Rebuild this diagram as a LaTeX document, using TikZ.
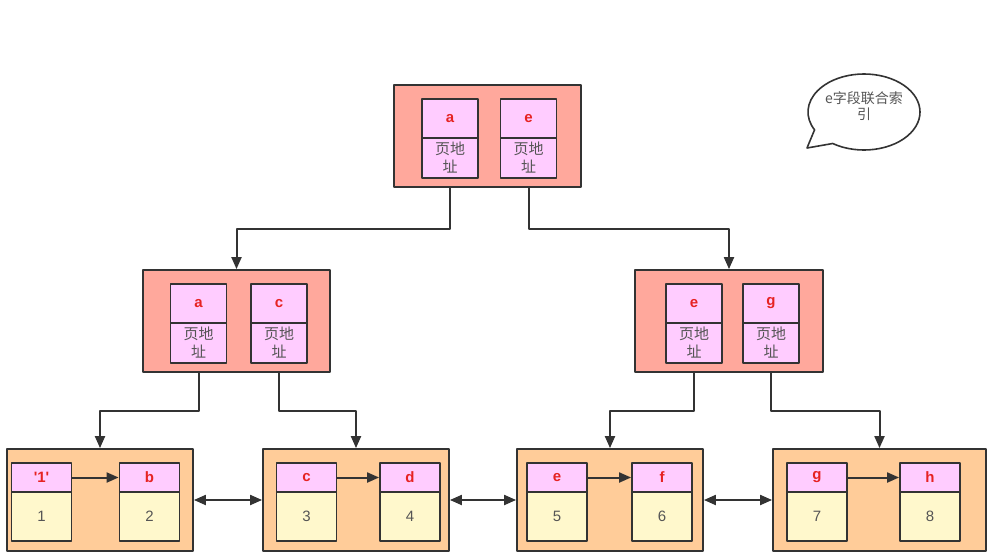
\documentclass[tikz,border=0pt]{standalone}
\usepackage{fontspec}
\setmainfont{Noto Sans CJK SC}
\newfontfamily\latinfont{Liberation Sans}
\usetikzlibrary{arrows.meta,positioning,calc}
\definecolor{edge}{HTML}{333333}
\definecolor{pagered}{HTML}{FFA89C}
\definecolor{keypink}{HTML}{FFCCFF}
\definecolor{leaforange}{HTML}{FFCC99}
\definecolor{datayellow}{HTML}{FFF8CC}
\definecolor{keytext}{HTML}{E62222}
\definecolor{graytext}{HTML}{555555}
\tikzset{
	page/.style={draw=edge, line width=1.8pt, fill=pagered, inner sep=0pt, minimum width=187pt, minimum height=102pt},
	leafpage/.style={page, fill=leaforange, minimum width=186pt},
	keycell/.style={draw=edge, line width=1.8pt, fill=keypink, inner sep=0pt, minimum width=56pt, minimum height=39pt, text=keytext, font=\latinfont\bfseries\fontsize{15}{16}\selectfont},
	ptrcell/.style={keycell, minimum height=40pt, text=graytext, font=\fontsize{15}{18}\selectfont, align=center},
	leafkey/.style={keycell, minimum width=60pt, minimum height=29pt},
	datacell/.style={keycell, minimum width=60pt, minimum height=49pt, fill=datayellow, text=graytext, font=\latinfont\fontsize{15}{16}\selectfont},
	link/.style={draw=edge, line width=2pt, -{Triangle[length=12pt,width=10pt]}},
	twoway/.style={link, {Triangle[length=12pt,width=10pt]}-{Triangle[length=12pt,width=10pt]}},
}
\begin{document}
\begin{tikzpicture}[x=1pt,y=-1pt, line join=round]
	\useasboundingbox (0,0) rectangle (994,555);
	\fill[white] (0,0) rectangle (994,555);
	% root page
	\node[page] (root) at (487.5,136) {};
	\node[keycell] (ra) at (450,118.5) {a};
	\node[ptrcell] (rap) at (450,158) {页地\\址};
	\node[keycell] (re) at (528.5,118.5) {e};
	\node[ptrcell] (rep) at (528.5,158) {页地\\址};
	% second level
	\node[page] (ml) at (236.5,321) {};
	\node[keycell] (mla) at (198.5,303.5) {a};
	\node[ptrcell] (mlap) at (198.5,343) {页地\\址};
	\node[keycell] (mlc) at (279,303.5) {c};
	\node[ptrcell] (mlcp) at (279,343) {页地\\址};
	\node[page, minimum width=188pt] (mr) at (729,321) {};
	\node[keycell] (mre) at (694,303.5) {e};
	\node[ptrcell] (mrep) at (694,343) {页地\\址};
	\node[keycell] (mrg) at (771,303.5) {g};
	\node[ptrcell] (mrgp) at (771,343) {页地\\址};
	% leaf pages
	\node[leafpage] (leafa) at (100,500) {};
	\node[leafpage] (leafb) at (356,500) {};
	\node[leafpage] (leafc) at (610,500) {};
	\node[leafpage, minimum width=213pt] (leafd) at (879.5,500) {};
	\foreach \nm/\x/\k/\v in {ka/41.5/{\char"27 1\char"27}/1, kb/149.5/b/2, kc/306.5/c/3, kd/410/d/4,
		ke/557/e/5, kf/662/f/6, kg/817/g/7, kh/930/h/8}{
		\node[leafkey] (\nm) at (\x,477.5) {\k};
		\node[datacell] (\nm v) at (\x,516.5) {\v};
	}
	\draw[link] (ka) -- (kb);
	\draw[link] (kc) -- (kd);
	\draw[link] (ke) -- (kf);
	\draw[link] (kg) -- (kh);
	\draw[twoway] (leafa) -- (leafb);
	\draw[twoway] (leafb) -- (leafc);
	\draw[twoway] (leafc) -- (leafd);
	% tree links
	\draw[link] (rap.south |- root.south) -- ++(0,41) -| (ml.north);
	\draw[link] (rep.south |- root.south) -- ++(0,41) -| (mr.north);
	\draw[link] (mlap.south |- ml.south) -- ++(0,38) -| (leafa.north);
	\draw[link] (mlcp.south |- ml.south) -- ++(0,38) -| (leafb.north);
	\draw[link] (mrep.south |- mr.south) -- ++(0,38) -| (leafc.north);
	\draw[link] (mrgp.south |- mr.south) -- ++(0,38) -| (leafd.north);
	% note bubble
	\coordinate (tip) at (807,148);
	\draw[edge, line width=1.6pt, fill=white] (tip) -- ($(864,112)+(124:56 and 38)$)
		arc[start angle=124, end angle=-208, x radius=56, y radius=38] -- cycle;
	\node[text=graytext, font=\fontsize{14}{16}\selectfont, align=center] (note) at (864,106) {e字段联合索\\引};
\end{tikzpicture}
\end{document}
